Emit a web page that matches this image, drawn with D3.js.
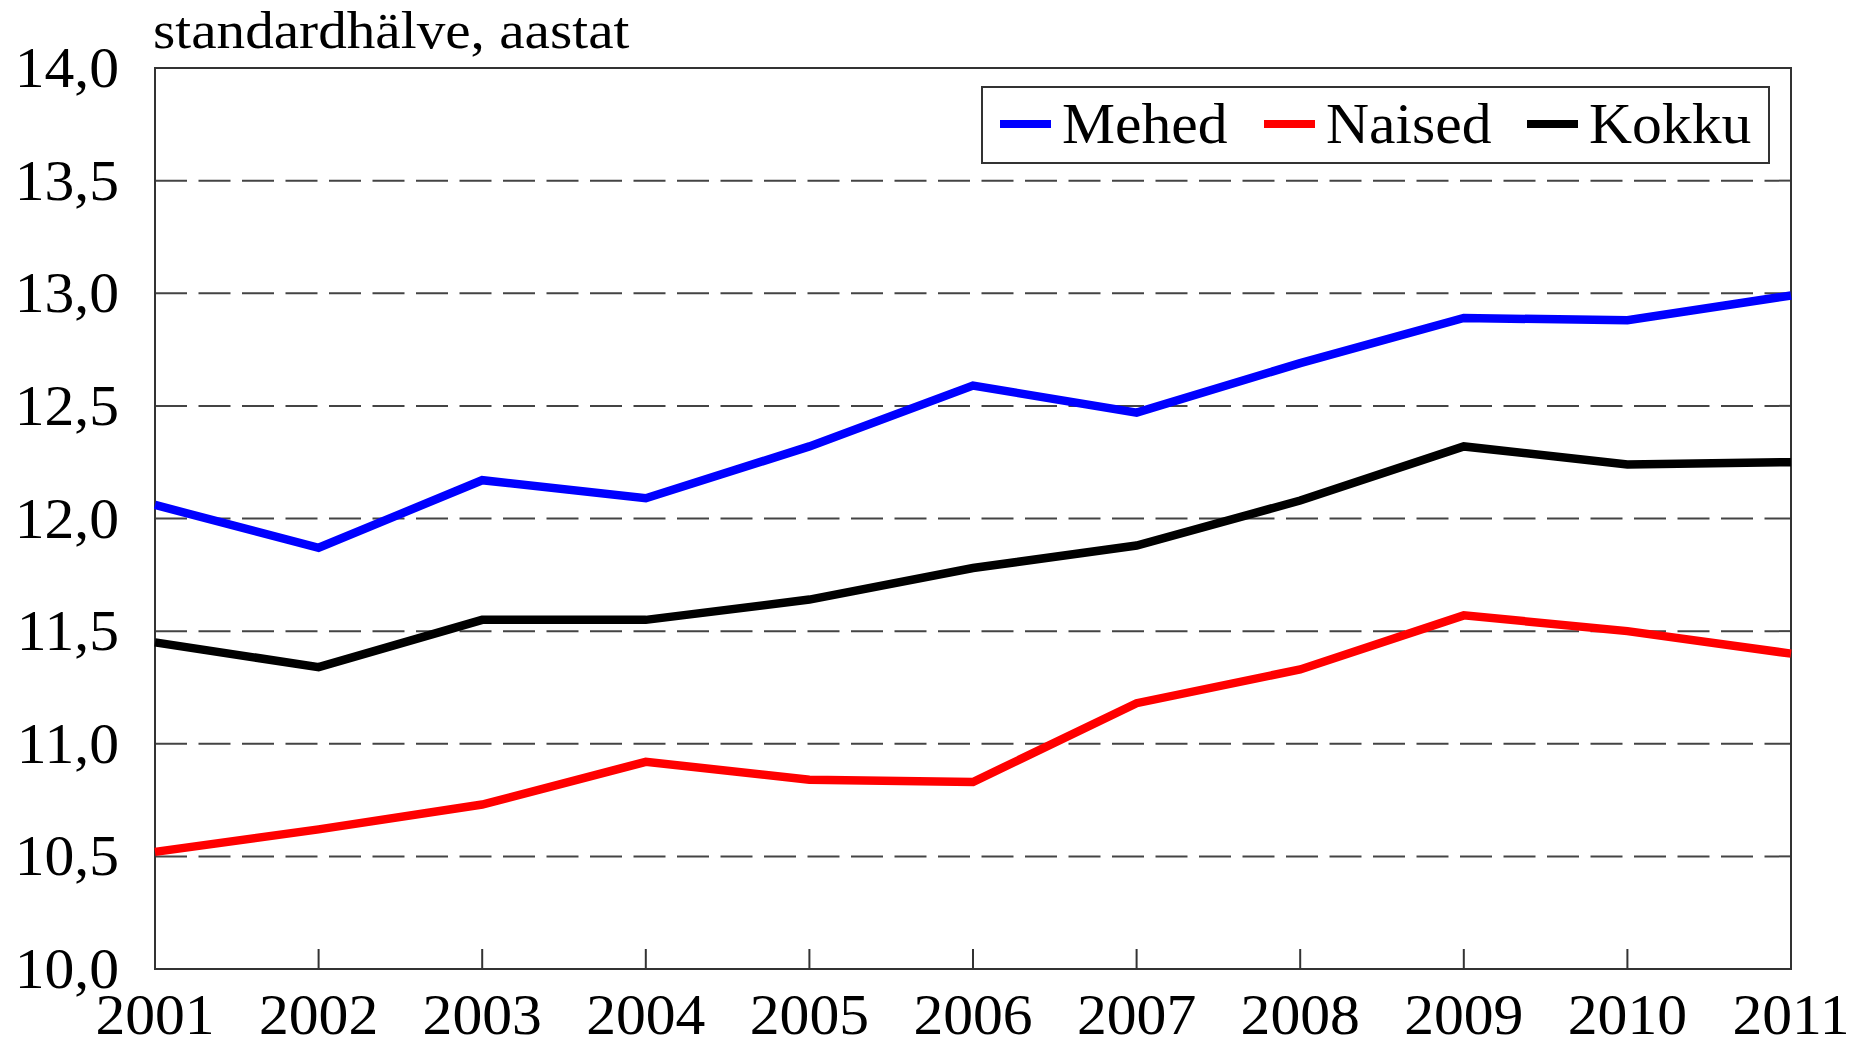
<!DOCTYPE html>
<html>
<head>
<meta charset="utf-8">
<script src="https://cdn.jsdelivr.net/npm/d3@7"></script>
<style>
  body { margin: 0; background: #fff; }
  text { font-family: "Liberation Serif", "DejaVu Serif", serif; fill: #000; }
</style>
</head>
<body>
<svg id="chart" width="1865" height="1047"></svg>
<script>
const years = [2001, 2002, 2003, 2004, 2005, 2006, 2007, 2008, 2009, 2010, 2011];
const mehed = [12.06, 11.87, 12.17, 12.09, 12.32, 12.59, 12.47, 12.69, 12.89, 12.88, 12.99];
const naised = [10.52, 10.62, 10.73, 10.92, 10.84, 10.83, 11.18, 11.33, 11.57, 11.50, 11.40];
const kokku = [11.45, 11.34, 11.55, 11.55, 11.64, 11.78, 11.88, 12.08, 12.32, 12.24, 12.25];
const yTicks = [10.0, 10.5, 11.0, 11.5, 12.0, 12.5, 13.0, 13.5, 14.0];
const seriesNames = ['Mehed', 'Naised', 'Kokku'];
const seriesColors = ['#0000ff', '#ff0000', '#000000'];

const series = [mehed, naised, kokku].map((values, i) => ({
  name: seriesNames[i],
  color: seriesColors[i],
  values: values.map((v, j) => ({ year: years[j], value: v }))
}));

const margin = { left: 155, right: 74, top: 68, bottom: 78 };
const width = 1865, height = 1047;
const stretch = 1.065; // the source text is a little wide
const svg = d3.select('#chart');

const x = d3.scaleLinear()
  .domain(d3.extent(years))
  .range([margin.left, width - margin.right]);
const y = d3.scaleLinear()
  .domain([10, 14])
  .range([height - margin.bottom, margin.top]);

const fmt = d => d3.format('.1f')(d).replace('.', ',');
const place = (px, py, sx = stretch) => `translate(${px},${py}) scale(${sx},1)`;

// dashed gridlines
svg.append('g')
  .selectAll('line')
  .data(yTicks.filter(d => d > 10 && d < 14))
  .enter().append('line')
  .attr('x1', x.range()[0]).attr('x2', x.range()[1])
  .attr('y1', y).attr('y2', y)
  .attr('stroke', '#444')
  .attr('stroke-width', 2)
  .attr('stroke-dasharray', '32,11.5');

// plot frame
svg.append('rect')
  .attr('x', x.range()[0])
  .attr('y', y.range()[1])
  .attr('width', x.range()[1] - x.range()[0])
  .attr('height', y.range()[0] - y.range()[1])
  .attr('fill', 'none')
  .attr('stroke', '#333')
  .attr('stroke-width', 2);

// inner x ticks
svg.append('g')
  .selectAll('line')
  .data(years.slice(1, -1))
  .enter().append('line')
  .attr('x1', x).attr('x2', x)
  .attr('y1', y.range()[0]).attr('y2', y.range()[0] - 20)
  .attr('stroke', '#333')
  .attr('stroke-width', 2);

// y labels
svg.append('g')
  .selectAll('text')
  .data(yTicks)
  .enter().append('text')
  .attr('transform', d => place(119, y(d)))
  .attr('dy', '0.34em')
  .attr('text-anchor', 'end')
  .style('font-size', '56px')
  .text(fmt);

// x labels
svg.append('g')
  .selectAll('text')
  .data(years)
  .enter().append('text')
  .attr('transform', d => place(x(d), 1034))
  .attr('text-anchor', 'middle')
  .style('font-size', '56px')
  .text(d => d);

// title
svg.append('text')
  .attr('transform', place(153, 48, 1.1))
  .style('font-size', '52px')
  .text('standardhälve, aastat');

// lines
const line = d3.line()
  .x(d => x(d.year))
  .y(d => y(d.value));

svg.append('g')
  .selectAll('path')
  .data(series)
  .enter().append('path')
  .attr('d', d => line(d.values))
  .attr('fill', 'none')
  .attr('stroke', d => d.color)
  .attr('stroke-width', 8.5);

// legend
const legend = svg.append('g');
legend.append('rect')
  .attr('x', 982).attr('y', 87)
  .attr('width', 787).attr('height', 76)
  .attr('fill', '#fff')
  .attr('stroke', '#333')
  .attr('stroke-width', 2);

const legendX = [1000, 1264, 1527];
const items = legend.selectAll('g.item')
  .data(series)
  .enter().append('g')
  .attr('class', 'item')
  .attr('transform', (d, i) => `translate(${legendX[i]},124)`);
items.append('line')
  .attr('x1', 0).attr('x2', 51)
  .attr('stroke', d => d.color)
  .attr('stroke-width', 8);
items.append('text')
  .attr('transform', place(62, 19))
  .style('font-size', '56px')
  .text(d => d.name);
</script>
</body>
</html>
